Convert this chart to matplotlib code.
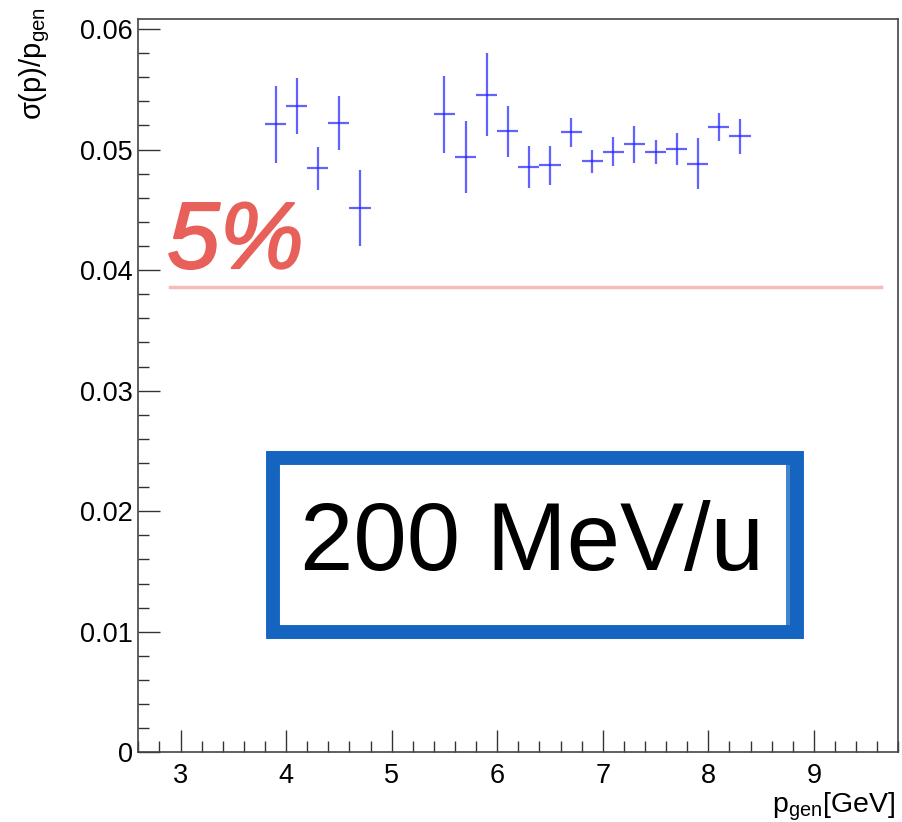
import matplotlib
matplotlib.use('Agg')
import matplotlib.pyplot as plt
import matplotlib.patheffects as pe
from matplotlib.patches import Rectangle
from matplotlib.ticker import MultipleLocator

plt.rcParams['font.family'] = ['Liberation Sans', 'DejaVu Sans']
plt.rcParams['mathtext.default'] = 'regular'

# momentum bins (GeV) and relative resolution
p_gen = [3.9, 4.1, 4.3, 4.5, 4.7,
         5.5, 5.7, 5.9, 6.1, 6.3, 6.5, 6.7, 6.9, 7.1,
         7.3, 7.5, 7.7, 7.9, 8.1, 8.3]
sigma_rel = [0.05209, 0.05359, 0.04845, 0.05220, 0.04518,
             0.05292, 0.04938, 0.05455, 0.05151, 0.04858, 0.04869, 0.05143, 0.04903, 0.04982,
             0.05044, 0.04982, 0.05005, 0.04883, 0.05187, 0.05110]
sigma_err = [0.00322, 0.00234, 0.00178, 0.00225, 0.00315,
             0.00321, 0.00301, 0.00347, 0.00210, 0.00174, 0.00162, 0.00122, 0.00094, 0.00122,
             0.00152, 0.00100, 0.00133, 0.00214, 0.00120, 0.00145]
bin_half = [0.1] * len(p_gen)

ref_level = 0.0386
ref_range = [2.9, 9.64]

fig = plt.figure(figsize=(9.02, 8.22), dpi=100)
ax = fig.add_axes([0.1533, 0.0848, 0.8426, 0.8917])

ax.errorbar(p_gen, sigma_rel, xerr=bin_half, yerr=sigma_err, fmt='none',
            ecolor='#2020ff', elinewidth=1.6, alpha=0.7, capsize=0, zorder=3)

# hand drawn reference line and label
ax.plot(ref_range, [ref_level, ref_level], color='#f6baba', lw=2.5, zorder=2)
ax.text(3.52, 0.0422, '5%', color='#e8605a', fontsize=68, fontstyle='italic',
        ha='center', va='center', zorder=4,
        path_effects=[pe.withStroke(linewidth=1.5, foreground='#e8605a')])

# sketched box with beam energy
ax.add_patch(Rectangle((3.876, 0.00998), 8.838 - 3.876, 0.02441 - 0.00998,
                       fill=False, edgecolor='#1565c0', lw=10, zorder=4))
ax.add_patch(Rectangle((3.83, 0.00950), 8.89 - 3.83, 0.02490 - 0.00950,
                       fill=False, edgecolor='#1565c0', lw=1.5, alpha=0.6, zorder=4))
ax.add_patch(Rectangle((8.74, 0.0100), 0.14, 0.0144,
                       fill=True, facecolor='#1565c0', edgecolor='none', alpha=0.8, zorder=4))
ax.text(6.33, 0.0172, '200 MeV/u', fontsize=69, ha='center', va='center',
        color='black', zorder=5)

ax.set_xlim(2.6, 9.8)
ax.set_ylim(0, 0.0608)
ax.xaxis.set_major_locator(MultipleLocator(1))
ax.xaxis.set_minor_locator(MultipleLocator(0.2))
ax.yaxis.set_major_locator(MultipleLocator(0.01))
ax.yaxis.set_minor_locator(MultipleLocator(0.002))
ax.yaxis.set_major_formatter(plt.FuncFormatter(lambda v, _: '0' if v == 0 else f'{v:.2f}'))

ax.tick_params(which='both', direction='in', top=False, right=False,
               labelsize=19.5, color='#333333')
ax.tick_params(which='major', length=15.8, width=1)
ax.tick_params(which='minor', length=8, width=1)
ax.tick_params(axis='x', which='major', pad=8)
ax.tick_params(axis='y', which='major', pad=4)
for s in ax.spines.values():
    s.set_color('#444444')
    s.set_linewidth(1.2)

ax.set_xlabel('p$_{gen}$[GeV]', fontsize=20.5, ha='right')
ax.xaxis.set_label_coords(0.996, -0.052)
ax.set_ylabel('σ(p)/p$_{gen}$', fontsize=21, ha='right')
ax.yaxis.set_label_coords(-0.114, 1.017)

plt.savefig('out.png', dpi=100)
